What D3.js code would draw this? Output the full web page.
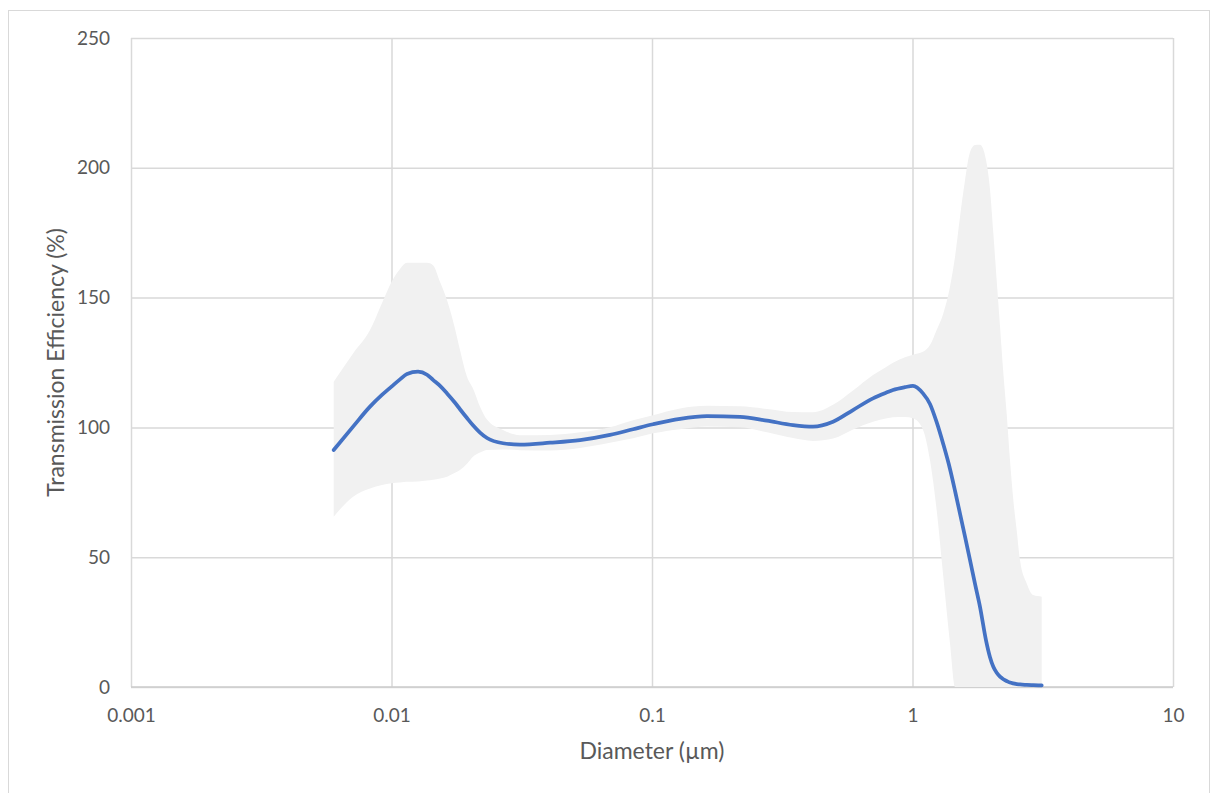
<!DOCTYPE html>
<html>
<head>
<meta charset="utf-8">
<script src="https://cdn.jsdelivr.net/npm/d3@7"></script>
<style>
  body { margin: 0; background: #ffffff; }
  text { font-family: 'Lato', 'Open Sans', sans-serif; fill: #595959; }
</style>
</head>
<body>
<script>
const diameters = [0.006, 0.00712, 0.00827, 0.00919, 0.01, 0.01078, 0.01147, 0.01264, 0.01369, 0.01443,
  0.01536, 0.01634, 0.01753, 0.01832, 0.01949, 0.02055, 0.02187, 0.02326, 0.02679, 0.03114,
  0.04059, 0.05291, 0.06899, 0.08456, 0.1009, 0.1281, 0.1626, 0.2177, 0.2764, 0.3478,
  0.415, 0.4953, 0.591, 0.7053, 0.7982, 0.8417, 0.9359, 1.004, 1.097, 1.167,
  1.238, 1.313, 1.393, 1.456, 1.521, 1.59, 1.662, 1.737, 1.816, 1.915,
  1.984, 2.043, 2.105, 2.167, 2.232, 2.299, 2.367, 2.438, 2.511, 2.586,
  2.744, 2.909, 3.133];

// transmission efficiency (%)
const efficiency = [91.3, 100.3, 108, 112.5, 115.7, 118.5, 120.6, 121.5, 120.3, 118.3,
  116, 113.1, 109.5, 107, 103.6, 100.8, 98, 95.9, 93.9, 93.4,
  94.1, 95.1, 97.1, 99.3, 101.2, 103.3, 104.3, 104.1, 102.6, 100.9,
  100.3, 102.2, 106.7, 111.2, 113.5, 114.4, 115.5, 116, 113.1, 109,
  102, 93.5, 84, 75.6, 66.9, 58, 49, 39.8, 30.9, 18,
  11.5, 7.8, 5.5, 4, 3, 2.3, 1.7, 1.4, 1.1, 1.0,
  0.8, 0.7, 0.6];

// error bars: upper (+) and lower (-) length on each point
const errorUp = [26.3, 28.2, 29.5, 35.3, 40.3, 42.5, 42.8, 41.9, 43.1, 44.2,
  40, 35.9, 28.5, 22.8, 15.9, 14.2, 10, 7.1, 5.1, 3.6,
  3, 3, 3, 3.5, 3.5, 4, 4, 4, 4.5, 5,
  5.5, 6.5, 7.5, 9, 10, 10.5, 11.5, 12, 16, 22.7,
  35.5, 50.4, 70.2, 90, 114, 137, 157, 169, 178, 185,
  180, 167, 151, 135, 118, 103, 85.7, 70.6, 59.4, 47.9,
  39.1, 34.7, 34.2];

const errorDown = [25.7, 27, 31.5, 34.7, 37.2, 39.7, 41.5, 42.3, 40.8, 38.5,
  35.7, 32.1, 27, 23.4, 17.6, 12.1, 7.7, 4.6, 2.4, 2.2,
  3, 3, 3, 3.5, 3.5, 4, 4, 4, 4.5, 5,
  5.5, 6.5, 7.5, 9, 10, 10.5, 11.5, 12.5, 14, 21.6,
  33.8, 51, 67.2, 90, 114, 137, 157, 169, 178, 185,
  180, 167, 151, 135, 118, 103, 85.7, 70.6, 59.4, 47.9,
  39.1, 34.7, 34.2];

const xTicks = [0.001, 0.01, 0.1, 1, 10];
const xTickLabels = ['0.001', '0.01', '0.1', '1', '10'];
const yTicks = [0, 50, 100, 150, 200, 250];

const xTitle = 'Diameter (\u00b5m)';
const yTitle = 'Transmission Efficiency (%)';

let svg = d3.select('body')
  .append('svg')
  .attr('width', 1211)
  .attr('height', 793);

// chart border
svg.append('rect')
  .attr('x', 8.5)
  .attr('y', 10.5)
  .attr('width', 1201)
  .attr('height', 800)
  .attr('fill', 'none')
  .attr('stroke', '#d9d9d9')
  .attr('stroke-width', 1);

let plot = { left: 131, right: 1173, top: 38, bottom: 687 };

let xScale = d3.scaleLog()
  .domain([0.001, 10])
  .range([plot.left, plot.right]);

let yScale = d3.scaleLinear()
  .domain([0, 250])
  .range([plot.bottom, plot.top]);

drawAxes();
drawBand();
drawLine();
drawTitles();

// gridlines and tick labels
function drawAxes() {
  let yAxis = d3.axisLeft(yScale)
    .tickValues(yTicks)
    .tickSize(-(plot.right - plot.left))
    .tickPadding(21);

  let gy = svg.append('g')
    .attr('transform', 'translate(' + plot.left + ', 0)')
    .call(yAxis);
  gy.select('.domain').remove();
  gy.selectAll('line')
    .attr('stroke', '#d9d9d9')
    .attr('stroke-width', 1.5);
  gy.selectAll('text')
    .style('font-size', '19px');

  let xAxis = d3.axisBottom(xScale)
    .tickValues(xTicks)
    .tickFormat((d, i) => xTickLabels[i])
    .tickSize(-(plot.bottom - plot.top))
    .tickPadding(22);

  let gx = svg.append('g')
    .attr('transform', 'translate(0, ' + plot.bottom + ')')
    .call(xAxis);
  gx.select('.domain').remove();
  gx.selectAll('line')
    .attr('stroke', '#d9d9d9')
    .attr('stroke-width', 1.5);
  gx.selectAll('text')
    .style('font-size', '19px');

  // x axis line
  svg.append('line')
    .attr('x1', plot.left)
    .attr('x2', plot.right)
    .attr('y1', yScale(0))
    .attr('y2', yScale(0))
    .attr('stroke', '#cccccc')
    .attr('stroke-width', 1.5);
}

// grey band of the error bars
function drawBand() {
  let rows = diameters.map((d, i) => ({ d: d, v: efficiency[i], up: errorUp[i], down: errorDown[i] }));
  let area = d3.area()
    .x((r) => xScale(r.d))
    .y0((r) => yScale(Math.max(0, r.v - r.down)))
    .y1((r) => yScale(Math.min(250, r.v + r.up)))
    .curve(d3.curveMonotoneX);

  svg.append('path')
    .datum(rows)
    .attr('fill', '#f1f1f1')
    .attr('d', area);
}

function drawLine() {
  let rows = diameters.map((d, i) => ({ d: d, v: efficiency[i] }));
  let line = d3.line()
    .x((r) => xScale(r.d))
    .y((r) => yScale(r.v))
    .curve(d3.curveMonotoneX);

  svg.append('path')
    .datum(rows)
    .attr('fill', 'none')
    .attr('stroke', '#4472c4')
    .attr('stroke-width', 3.75)
    .attr('stroke-linejoin', 'round')
    .attr('stroke-linecap', 'round')
    .attr('d', line);
}

// axis titles
function drawTitles() {
  svg.append('text')
    .attr('x', (plot.left + plot.right) / 2)
    .attr('y', 759)
    .attr('text-anchor', 'middle')
    .style('font-size', '23px')
    .text(xTitle);

  svg.append('text')
    .attr('transform', 'translate(64, ' + (plot.top + plot.bottom) / 2 + ')rotate(-90)')
    .attr('text-anchor', 'middle')
    .style('font-size', '23px')
    .text(yTitle);
}
</script>
</body>
</html>
